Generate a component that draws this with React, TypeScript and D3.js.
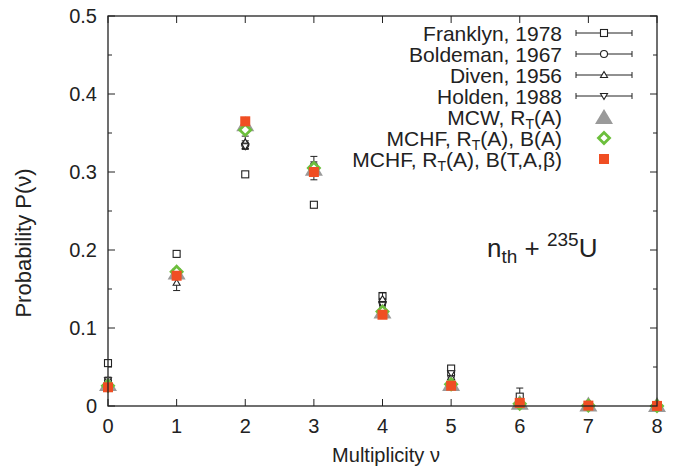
import React from "react";
import * as d3 from "d3";

const multiplicity = [0, 1, 2, 3, 4, 5, 6, 7, 8];
const yTicks = [0, 0.1, 0.2, 0.3, 0.4, 0.5];
const yMinorTicks = [0.05, 0.15, 0.25, 0.35, 0.45];

const franklynX = [0, 1, 2, 3, 4, 5, 6];
const franklynY = [0.055, 0.195, 0.297, 0.258, 0.141, 0.048, 0.012];
const franklynErr = [0.003, 0.003, 0.003, 0.003, 0.004, 0.003, 0.011];

const boldemanX = [0, 1, 2, 3, 4, 5, 6];
const boldemanY = [0.032, 0.170, 0.335, 0.308, 0.133, 0.040, 0.004];
const boldemanErr = [0.004, 0.005, 0.005, 0.005, 0.005, 0.004, 0.003];

const divenX = [0, 1, 2, 3, 4, 5, 6];
const divenY = [0.031, 0.158, 0.338, 0.305, 0.137, 0.037, 0.004];
const divenErr = [0.006, 0.01, 0.008, 0.015, 0.008, 0.006, 0.004];

const holdenX = [0, 1, 2, 3, 4, 5, 6];
const holdenY = [0.033, 0.172, 0.333, 0.303, 0.130, 0.042, 0.004];
const holdenErr = [0.003, 0.004, 0.004, 0.004, 0.004, 0.003, 0.002];

const mcwY = [0.027, 0.170, 0.360, 0.303, 0.120, 0.027, 0.003, 0.0005, 0.0001];
const mchfAY = [0.026, 0.172, 0.354, 0.305, 0.121, 0.028, 0.003, 0.0005, 0.0001];
const mchfTY = [0.024, 0.167, 0.365, 0.300, 0.117, 0.026, 0.004, 0.0005, 0.0001];

const W = 680, H = 472;
const left = 108, right = 657, top = 16, bottom = 406;
const FONT = "'Liberation Sans', Arial, Helvetica, sans-serif";
const GRAY = "#9a9a9a";
const GREEN = "#6cbf3c";
const RED = "#f04e23";

const x = d3.scaleLinear().domain([0, 8]).range([left, right]);
const y = d3.scaleLinear().domain([0, 0.5]).range([bottom, top]);

type Shape = "square" | "circle" | "tri" | "itri";

function OpenMarker({ shape, cx, cy }: { shape: Shape; cx: number; cy: number }) {
  const s = 3.5;
  const common = { fill: "white", stroke: "#222", strokeWidth: 1.1 };
  if (shape === "square") return <rect x={cx - s} y={cy - s} width={2 * s} height={2 * s} {...common} />;
  if (shape === "circle") return <circle cx={cx} cy={cy} r={s} {...common} />;
  if (shape === "tri") return <path d={`M${cx},${cy - s} L${cx + s},${cy + s * 0.7} L${cx - s},${cy + s * 0.7} Z`} {...common} />;
  return <path d={`M${cx},${cy + s} L${cx + s},${cy - s * 0.7} L${cx - s},${cy - s * 0.7} Z`} {...common} />;
}

function ExpSeries({ xs, ys, errs, shape }: { xs: number[]; ys: number[]; errs: number[]; shape: Shape }) {
  return (
    <g>
      {xs.map((v, i) => {
        const cx = x(v), cy = y(ys[i]);
        const y1 = y(ys[i] + errs[i]), y2 = y(Math.max(0, ys[i] - errs[i]));
        return (
          <g key={i}>
            <line x1={cx} x2={cx} y1={y1} y2={y2} stroke="#222" strokeWidth={1} />
            <line x1={cx - 3.5} x2={cx + 3.5} y1={y1} y2={y1} stroke="#222" strokeWidth={1} />
            <line x1={cx - 3.5} x2={cx + 3.5} y1={y2} y2={y2} stroke="#222" strokeWidth={1} />
            <OpenMarker shape={shape} cx={cx} cy={cy} />
          </g>
        );
      })}
    </g>
  );
}

function GrayTri({ cx, cy }: { cx: number; cy: number }) {
  return <path d={`M${cx},${cy - 9} L${cx + 9},${cy + 6} L${cx - 9},${cy + 6} Z`} fill={GRAY} />;
}
function GreenDiamond({ cx, cy }: { cx: number; cy: number }) {
  const s = 5.5;
  return <path d={`M${cx},${cy - s} L${cx + s},${cy} L${cx},${cy + s} L${cx - s},${cy} Z`} fill="white" stroke={GREEN} strokeWidth={2.8} />;
}
function RedSquare({ cx, cy }: { cx: number; cy: number }) {
  return <rect x={cx - 5} y={cy - 5} width={10} height={10} fill={RED} />;
}

const legendExp: { label: string; shape: Shape }[] = [
  { label: "Franklyn, 1978", shape: "square" },
  { label: "Boldeman, 1967", shape: "circle" },
  { label: "Diven, 1956", shape: "tri" },
  { label: "Holden, 1988", shape: "itri" },
];

export default function App() {
  const legendTextX = 562;
  const legendMarkX = 604;
  const LF = 21;
  const rowY = (i: number) => 33 + i * 21;
  return (
    <svg width={W} height={H} style={{ position: "absolute", left: 0, top: 0, background: "white" }} fontFamily={FONT}>
      <rect width={W} height={H} fill="white" />
      {/* ticks */}
      {yTicks.map((t) => (
        <g key={"yt" + t}>
          <line x1={left} x2={left + 7} y1={y(t)} y2={y(t)} stroke="#222" />
          <line x1={right} x2={right - 7} y1={y(t)} y2={y(t)} stroke="#222" />
          <text x={97} y={y(t)} dy="0.36em" textAnchor="end" fontSize={20} fill="#222">{t === 0 ? "0" : d3.format(".1f")(t)}</text>
        </g>
      ))}
      {yMinorTicks.map((t) => (
        <g key={"ym" + t}>
          <line x1={left} x2={left + 4} y1={y(t)} y2={y(t)} stroke="#222" />
          <line x1={right} x2={right - 4} y1={y(t)} y2={y(t)} stroke="#222" />
        </g>
      ))}
      {multiplicity.map((m) => (
        <g key={"xt" + m}>
          <line x1={x(m)} x2={x(m)} y1={bottom} y2={bottom - 7} stroke="#222" />
          <line x1={x(m)} x2={x(m)} y1={top} y2={top + 7} stroke="#222" />
          <text x={x(m)} y={433} textAnchor="middle" fontSize={20} fill="#222">{m}</text>
        </g>
      ))}
      <text x={386} y={462} textAnchor="middle" fontSize={20} fill="#222">Multiplicity ν</text>
      <text transform={`translate(31,243) rotate(-90)`} textAnchor="middle" fontSize={22} fill="#222">Probability P(ν)</text>

      {/* data */}
      <ExpSeries xs={franklynX} ys={franklynY} errs={franklynErr} shape="square" />
      <ExpSeries xs={boldemanX} ys={boldemanY} errs={boldemanErr} shape="circle" />
      <ExpSeries xs={divenX} ys={divenY} errs={divenErr} shape="tri" />
      <ExpSeries xs={holdenX} ys={holdenY} errs={holdenErr} shape="itri" />
      {multiplicity.map((m, i) => <GrayTri key={"g" + i} cx={x(m)} cy={y(mcwY[i])} />)}
      {multiplicity.map((m, i) => <GreenDiamond key={"d" + i} cx={x(m)} cy={y(mchfAY[i])} />)}
      {multiplicity.map((m, i) => <RedSquare key={"r" + i} cx={x(m)} cy={y(mchfTY[i])} />)}

      {/* frame */}
      <rect x={left} y={top} width={right - left} height={bottom - top} fill="none" stroke="#222" strokeWidth={1.3} />

      {/* legend */}
      {legendExp.map((l, i) => (
        <g key={l.label}>
          <text x={legendTextX} y={rowY(i)} dy="0.36em" textAnchor="end" fontSize={LF} fill="#222">{l.label}</text>
          <line x1={576} x2={632} y1={rowY(i)} y2={rowY(i)} stroke="#222" />
          <line x1={576} x2={576} y1={rowY(i) - 3} y2={rowY(i) + 3} stroke="#222" />
          <line x1={632} x2={632} y1={rowY(i) - 3} y2={rowY(i) + 3} stroke="#222" />
          <OpenMarker shape={l.shape} cx={legendMarkX} cy={rowY(i)} />
        </g>
      ))}
      <text x={legendTextX} y={rowY(4)} dy="0.36em" textAnchor="end" fontSize={LF} fill="#222">
        MCW, R<tspan fontSize={14} dy={4}>T</tspan><tspan dy={-4}>(A)</tspan>
      </text>
      <GrayTri cx={legendMarkX} cy={rowY(4) + 1} />
      <text x={legendTextX} y={rowY(5)} dy="0.36em" textAnchor="end" fontSize={LF} fill="#222">
        MCHF, R<tspan fontSize={14} dy={4}>T</tspan><tspan dy={-4}>(A), B(A)</tspan>
      </text>
      <GreenDiamond cx={legendMarkX} cy={rowY(5)} />
      <text x={legendTextX} y={rowY(6)} dy="0.36em" textAnchor="end" fontSize={LF} fill="#222">
        MCHF, R<tspan fontSize={14} dy={4}>T</tspan><tspan dy={-4}>(A), B(T,A,β)</tspan>
      </text>
      <RedSquare cx={legendMarkX} cy={rowY(6)} />

      {/* annotation */}
      <text x={487} y={257} fontSize={26} fill="#222">
        n<tspan fontSize={19} dy={6}>th</tspan><tspan dy={-6}> + </tspan><tspan fontSize={19} dy={-11}>235</tspan><tspan dy={11}>U</tspan>
      </text>
    </svg>
  );
}
